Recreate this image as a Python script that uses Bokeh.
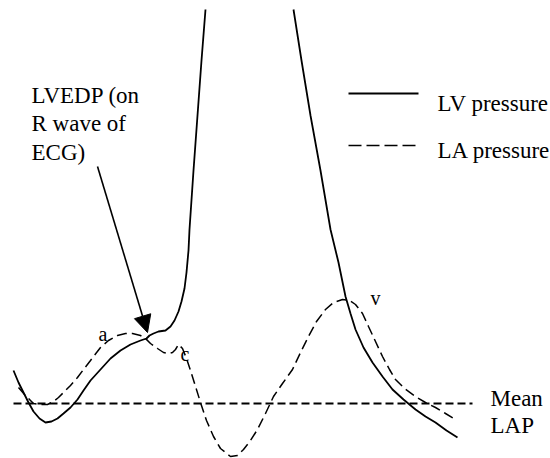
from bokeh.plotting import figure
from bokeh.models import Range1d, Arrow, NormalHead, ColumnDataSource
from bokeh.core.properties import value
from bokeh.embed import file_html
from bokeh.resources import INLINE

nan = float("nan")

# LV pressure trace (time, level; top of systole is off the chart)
lv_t = [13, 18, 23, 28, 33, 39, 45, 51, 57, 63, 70, 77, 83, 90, 100, 110, 120, 130, 140, 146,
        149, 153, 158, 165, 170, 174, 178, 181, 184, 186, 188, 189, 193, 197, 201, 205,
        nan,
        293, 301, 310, 320, 330, 338, 345, 350, 355, 363, 372, 382, 392, 403, 415, 425, 435, 446, 457]
lv_p = [370, 382, 392, 402, 411, 418, 422, 421, 418, 413, 407, 399, 390, 380, 369, 358, 350, 344, 340, 338,
        335, 333, 331, 330, 326, 320, 311, 301, 288, 272, 250, 229, 170, 115, 60, 9,
        nan,
        9, 60, 115, 170, 229, 262, 296, 313, 329, 347, 362, 376, 389, 399, 409, 416, 422, 430, 437]

# LA pressure trace
la_t = [18, 24, 30, 33, 40, 47, 53, 58, 63, 70, 77, 83, 90, 100, 108, 117, 125, 132, 140, 145,
        150, 157, 163, 168, 172, 175, 178, 182, 186, 190, 195, 200, 206, 213, 220, 230, 237, 243,
        250, 257, 265, 273, 282, 292, 300, 308, 316, 325, 333, 342, 349, 355, 362, 368, 375, 382,
        389, 395, 404, 415, 425, 435, 445, 455]
la_p = [387, 394, 400, 403, 404, 404, 401, 397, 392, 385, 377, 369, 360, 347, 340, 335, 333, 333, 335, 338,
        343, 348, 352, 353, 352, 349, 344, 348, 358, 370, 386, 402, 420, 436, 448, 456, 455, 449,
        440, 429, 413, 396, 383, 369, 352, 336, 321, 309, 302, 299, 300, 304, 313, 326, 341, 356,
        369, 379, 388, 396, 402, 407, 413, 419]

# Mean LAP level
mean_lap_t = [13, 472]
mean_lap_p = [403, 403]

# Annotation texts
label_text = ["LVEDP (on", "R wave of", "ECG)", "LV pressure", "LA pressure", "Mean", "LAP"]
label_x = [31, 31, 31, 437, 437, 490, 490]
label_y = [95, 123, 152, 103, 150, 398, 425]

wave_text = ["a", "c", "v"]
wave_x = [98, 180, 370]
wave_y = [333, 353, 297]

SERIF = value("Liberation Serif")

p = figure(width=550, height=458, output_backend="svg", toolbar_location=None,
           x_range=Range1d(0, 550), y_range=Range1d(458, 0),
           min_border=0, outline_line_color=None)
p.axis.visible = False
p.grid.visible = False
p.background_fill_color = "white"
p.border_fill_color = "white"

p.line(lv_t, lv_p, line_color="black", line_width=1.8)
p.line(la_t, la_p, line_color="black", line_width=1.5, line_dash="10 5")
p.line(mean_lap_t, mean_lap_p, line_color="black", line_width=2, line_dash="8 4")

# legend samples
p.line([348, 418], [93, 93], line_color="black", line_width=2)
p.line([348, 418], [145, 145], line_color="black", line_width=1.5, line_dash="13 5")

src = ColumnDataSource(dict(x=label_x, y=label_y, text=label_text))
p.text("x", "y", text="text", source=src, text_font=SERIF,
       text_font_size="23px", text_baseline="alphabetic", text_align="left", text_color="black")

wsrc = ColumnDataSource(dict(x=wave_x, y=wave_y, text=wave_text))
p.text("x", "y", text="text", source=wsrc, text_font=SERIF,
       text_font_size="20px", text_baseline="alphabetic", text_align="left", text_color="black")

p.add_layout(Arrow(x_start=97, y_start=166, x_end=147, y_end=332, line_width=1.6,
                   line_color="black",
                   end=NormalHead(size=17, fill_color="black", line_color="black")))

open("out.html", "w").write(file_html(p, INLINE))
